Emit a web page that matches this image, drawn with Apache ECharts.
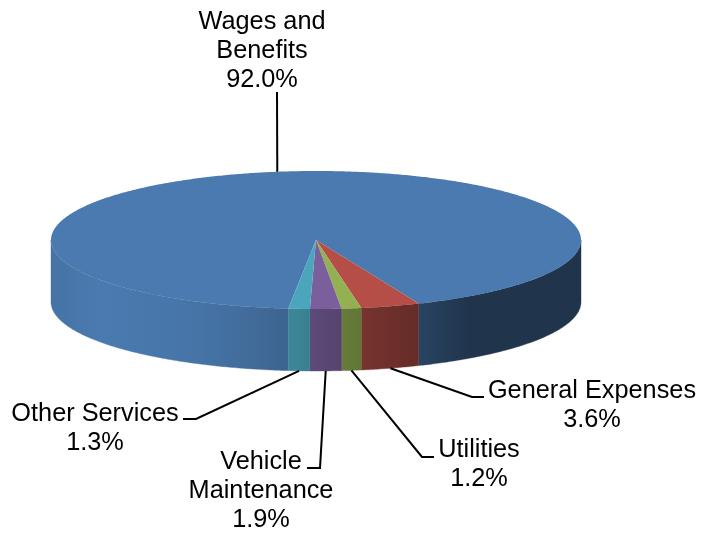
<!DOCTYPE html>
<html>
<head>
<meta charset="utf-8">
<style>html,body{margin:0;padding:0;background:#fff}#chart{width:703px;height:536px}</style>
<script src="https://cdn.jsdelivr.net/npm/echarts@6/dist/echarts.min.js"></script>
</head>
<body>
<div id="chart"></div>
<script>
// Expense shares, clockwise from the first slice
const categories = ['Wages and\nBenefits', 'General Expenses', 'Utilities', 'Vehicle\nMaintenance', 'Other Services'];
const shares = [92.0, 3.6, 1.2, 1.9, 1.3];
const topColors = ['#4a7ab0', '#b44e47', '#93b152', '#7a5f9c', '#4ba5bc'];

// Disc geometry: angles are measured from the front of the disc, positive to the right
const disc = { cx: 316, cy: 240, rx: 265, ry: 69, depth: 62, firstAngle: -6 };
// Wall lighting across the width of the disc: [x, brightness]
const wallLight = [[51, 0.94], [100, 1], [200, 0.95], [288, 0.82], [361, 0.66], [418, 0.56], [470, 0.43], [582, 0.43]];
// Label centres and the elbow points of their leader lines
const labelPlace = [
  { x: 262, y: 51, elbow: [[277, 92]] },
  { x: 592, y: 406, elbow: [[484, 397], [472, 397]] },
  { x: 479, y: 465, elbow: [[434, 457], [422, 457]] },
  { x: 261, y: 491, elbow: [[307, 468], [320, 468]] },
  { x: 95, y: 429, elbow: [[183, 419], [196, 419]] }
];

const total = shares.reduce((a, b) => a + b, 0);
const rad = d => d * Math.PI / 180;
const rim = (deg, drop) => [
  disc.cx + disc.rx * Math.sin(rad(deg)),
  disc.cy + disc.ry * Math.cos(rad(deg)) + (drop || 0)
];
const arc = (from, to, drop) => {
  const n = Math.max(2, Math.ceil(Math.abs(to - from) * 2));
  const pts = [];
  for (let i = 0; i <= n; i++) pts.push(rim(from + (to - from) * i / n, drop));
  return pts;
};
const spans = [];
shares.reduce((start, v) => {
  const end = start - v / total * 360;
  spans.push([start, end]);
  return end;
}, disc.firstAngle);

function shade(hex, k) {
  const c = echarts.color.parse(hex);
  return 'rgb(' + [0, 1, 2].map(i => Math.round(c[i] * k)).join(',') + ')';
}
function wallFill(hex) {
  const x0 = wallLight[0][0], x1 = wallLight[wallLight.length - 1][0];
  return new echarts.graphic.LinearGradient(x0, 0, x1, 0,
    wallLight.map(s => ({ offset: (s[0] - x0) / (x1 - x0), color: shade(hex, s[1]) })), true);
}
// The parts of a slice's outer wall that face the viewer
function frontParts(from, to) {
  const parts = [];
  for (const k of [0, -360]) {
    const a = Math.min(from, 90 + k), b = Math.max(to, -90 + k);
    if (a > b) parts.push([a, b]);
  }
  return parts;
}

function renderSlice(params, api) {
  const i = api.value(0);
  const [from, to] = spans[i];
  const children = [];
  frontParts(from, to).forEach(([a, b]) => {
    const fill = wallFill(topColors[i]);
    children.push({
      type: 'polygon',
      shape: { points: arc(a, b, 0).concat(arc(b, a, disc.depth)) },
      style: { fill: fill, stroke: fill, lineWidth: 0.4 },
      z2: 1
    });
  });
  children.push({
    type: 'polygon',
    shape: { points: [[disc.cx, disc.cy]].concat(arc(from, to, 0)) },
    style: { fill: topColors[i] },
    z2: 2
  });
  // Leader line from the label to the middle of the slice
  const mid = (from + to) / 2;
  const facing = Math.cos(rad(mid)) > 0;
  const place = labelPlace[i];
  children.push({
    type: 'polyline',
    shape: { points: place.elbow.concat([rim(mid, facing ? disc.depth : 0)]) },
    style: { fill: null, stroke: '#000', lineWidth: 2 },
    z2: 3
  });
  children.push({
    type: 'text',
    style: {
      x: place.x, y: place.y,
      text: categories[i] + '\n' + api.value(1).toFixed(1) + '%',
      fill: '#000',
      font: '25.3px "Liberation Sans", Arial, sans-serif',
      lineHeight: 29,
      align: 'center',
      verticalAlign: 'middle'
    },
    z2: 4
  });
  return { type: 'group', children: children };
}

const chart = echarts.init(document.getElementById('chart'));
chart.setOption({
  animation: false,
  backgroundColor: '#fff',
  series: [{
    type: 'custom',
    coordinateSystem: 'none',
    renderItem: renderSlice,
    data: shares.map((v, i) => [i, v])
  }]
});
</script>
</body>
</html>
